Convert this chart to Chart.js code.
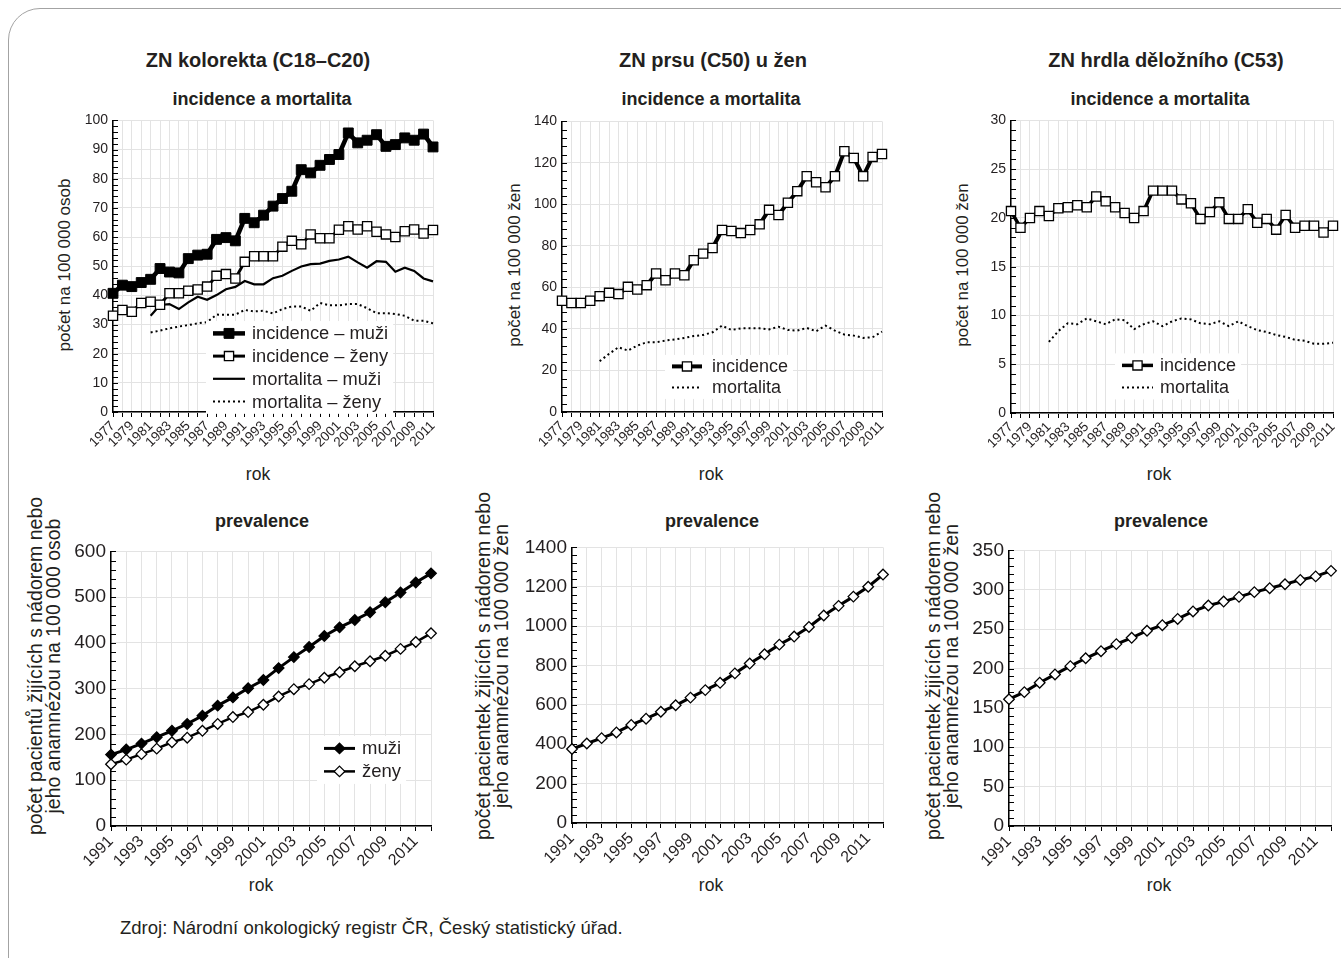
<!DOCTYPE html>
<html lang="cs">
<head>
<meta charset="utf-8">
<title>ZN kolorekta, prsu a hrdla děložního</title>
<script src="https://cdn.jsdelivr.net/npm/chart.js@4.4.1/dist/chart.umd.min.js"></script>
<style>
  html, body { margin: 0; padding: 0; background: #fff; overflow: hidden; }
  body { width: 1341px; height: 958px; position: relative; font-family: "Liberation Sans", Arial, sans-serif; color: #231f20; }
  .frame { position: absolute; left: 8px; top: 8px; width: 1400px; height: 1000px; border: 1.5px solid #a3a3a3; border-radius: 32px; }
  .txt { position: absolute; white-space: nowrap; transform: translate(-50%, -50%); }
  .head { font-weight: bold; font-size: 20px; }
  .sub { font-weight: bold; font-size: 18px; }
  .ytitle { transform: translate(-50%, -50%) rotate(-90deg); text-align: center; font-size: 17px; line-height: 18px; }
  .ytitle.two { font-size: 19.5px; }
  .xtitle { font-size: 17.5px; }
  .src { position: absolute; left: 120px; top: 917px; font-size: 18.5px; white-space: nowrap; }
  canvas { position: absolute; }
</style>
</head>
<body>
<div class="frame"></div>

<div class="txt head" style="left:258px;top:60px">ZN kolorekta (C18–C20)</div>
<div class="txt head" style="left:713px;top:60px">ZN prsu (C50) u žen</div>
<div class="txt head" style="left:1166px;top:60px">ZN hrdla děložního (C53)</div>

<div class="txt sub" style="left:262px;top:99px">incidence a mortalita</div>
<div class="txt sub" style="left:711px;top:99px">incidence a mortalita</div>
<div class="txt sub" style="left:1160px;top:99px">incidence a mortalita</div>

<div class="txt sub" style="left:262px;top:521px">prevalence</div>
<div class="txt sub" style="left:712px;top:521px">prevalence</div>
<div class="txt sub" style="left:1161px;top:521px">prevalence</div>

<div class="txt ytitle" style="left:65px;top:265px">počet na 100 000 osob</div>
<div class="txt ytitle" style="left:515px;top:265px">počet na 100 000 žen</div>
<div class="txt ytitle" style="left:963px;top:265px">počet na 100 000 žen</div>

<div class="txt ytitle two" style="left:44px;top:666px">počet pacientů žijících s nádorem nebo<br>jeho anamnézou na 100 000 osob</div>
<div class="txt ytitle two" style="left:492px;top:666px">počet pacientek žijících s nádorem nebo<br>jeho anamnézou na 100 000 žen</div>
<div class="txt ytitle two" style="left:942px;top:666px">počet pacientek žijících s nádorem nebo<br>jeho anamnézou na 100 000 žen</div>

<div class="txt xtitle" style="left:258px;top:474px">rok</div>
<div class="txt xtitle" style="left:711px;top:474px">rok</div>
<div class="txt xtitle" style="left:1159px;top:474px">rok</div>
<div class="txt xtitle" style="left:261px;top:885px">rok</div>
<div class="txt xtitle" style="left:711px;top:885px">rok</div>
<div class="txt xtitle" style="left:1159px;top:885px">rok</div>

<canvas id="kolIM"></canvas>
<canvas id="prsIM"></canvas>
<canvas id="hrdIM"></canvas>
<canvas id="kolPrev"></canvas>
<canvas id="prsPrevC"></canvas>
<canvas id="hrdPrevC"></canvas>

<div class="src">Zdroj: Národní onkologický registr ČR, Český statistický úřad.</div>

<script>
// years on the category axes
const yearsTop = [1977, 1978, 1979, 1980, 1981, 1982, 1983, 1984, 1985, 1986, 1987, 1988,
  1989, 1990, 1991, 1992, 1993, 1994, 1995, 1996, 1997, 1998, 1999, 2000, 2001, 2002,
  2003, 2004, 2005, 2006, 2007, 2008, 2009, 2010, 2011];
const yearsPrev = [1991, 1992, 1993, 1994, 1995, 1996, 1997, 1998, 1999, 2000, 2001, 2002,
  2003, 2004, 2005, 2006, 2007, 2008, 2009, 2010, 2011, 2012];

// colorectum (C18–C20), per 100 000
const kolIncMuzi = [40.7, 43.5, 43.0, 44.4, 45.5, 49.2, 48.0, 47.7, 52.6, 53.8, 54.1, 59.2, 59.8,
  58.7, 66.4, 64.9, 67.5, 70.6, 73.2, 75.7, 83.1, 82.0, 84.6, 86.6, 88.3, 95.7, 92.3, 93.2, 95.1,
  91.1, 91.7, 94.0, 93.2, 95.3, 90.9];
const kolIncZeny = [33.0, 35.0, 34.4, 37.4, 37.8, 36.8, 40.7, 40.7, 41.6, 42.0, 43.0, 46.7, 47.3,
  45.8, 51.5, 53.4, 53.4, 53.4, 56.7, 58.7, 57.5, 60.9, 59.6, 59.6, 62.5, 63.7, 62.6, 63.7, 61.8,
  60.9, 60.0, 62.0, 62.6, 61.2, 62.4];
const kolMortMuzi = [null, null, null, null, 33.0, 36.7, 37.0, 35.3, 37.6, 39.5, 38.5, 40.1, 42.1,
  42.9, 44.9, 43.8, 43.8, 45.9, 46.7, 48.4, 49.9, 50.7, 50.9, 51.8, 52.3, 53.3, 51.3, 49.5, 51.7,
  51.5, 48.1, 49.5, 48.4, 45.8, 44.8];
const kolMortZeny = [null, null, null, null, 27.3, 27.9, 28.7, 29.3, 29.8, 30.4, 30.8, 33.4, 33.3,
  33.4, 35.0, 34.5, 34.7, 33.8, 35.3, 36.2, 36.2, 34.7, 37.4, 36.6, 36.6, 37.0, 37.0, 35.6, 33.9,
  33.9, 33.6, 33.0, 31.3, 31.3, 30.4];

// breast (C50), women
const prsInc = [53.6, 52.5, 52.5, 53.6, 55.8, 57.4, 56.8, 60.3, 59.0, 61.1, 66.7, 63.5, 66.7, 65.9,
  73.1, 76.3, 79.0, 87.7, 87.2, 86.2, 87.7, 90.4, 97.4, 94.9, 100.8, 106.4, 113.6, 110.7, 108.3,
  113.6, 125.6, 122.4, 113.6, 122.9, 124.3];
const prsMort = [null, null, null, null, 24.5, 28.0, 31.2, 29.6, 32.0, 33.6, 33.6, 34.4, 35.0, 35.7,
  36.6, 37.1, 38.4, 41.6, 39.5, 40.3, 40.3, 40.3, 39.8, 41.1, 39.5, 39.2, 40.5, 38.9, 41.6, 39.2,
  37.3, 36.8, 35.7, 36.0, 38.7];

// cervix (C53)
const hrdInc = [20.7, 19.0, 20.0, 20.7, 20.2, 21.0, 21.1, 21.3, 21.1, 22.2, 21.7, 21.1, 20.5, 20.0,
  20.7, 22.8, 22.8, 22.8, 21.9, 21.5, 19.9, 20.6, 21.6, 19.9, 19.9, 20.9, 19.5, 19.9, 18.8, 20.3,
  19.0, 19.2, 19.2, 18.5, 19.2];
const hrdMort = [null, null, null, null, 7.3, 8.4, 9.2, 9.1, 9.7, 9.4, 9.1, 9.6, 9.5, 8.6, 9.1, 9.4,
  8.9, 9.4, 9.7, 9.6, 9.2, 9.1, 9.4, 8.9, 9.4, 8.9, 8.5, 8.3, 8.0, 7.8, 7.5, 7.4, 7.1, 7.1, 7.2];

// prevalence 1991–2012
const kolPrevMuzi = [156, 167, 180, 194, 208, 223, 241, 263, 281, 301, 319, 345, 369, 391, 415, 434,
  450, 467, 489, 510, 532, 552];
const kolPrevZeny = [135, 145, 157, 169, 183, 193, 208, 223, 238, 249, 265, 283, 299, 310, 324, 336,
  349, 360, 372, 387, 402, 421];
const prsPrev = [376, 404, 431, 460, 498, 530, 565, 598, 637, 675, 712, 760, 810, 857, 906, 947, 996,
  1054, 1103, 1150, 1200, 1262];
const hrdPrev = [161, 170, 182, 192.5, 203, 213, 222, 231, 239, 248, 255, 263, 272.5, 280, 285, 291,
  297, 302, 307, 312.5, 317, 324];

const FONT = '"Liberation Sans", Arial, sans-serif';
const INK = '#231f20';
const GRID = '#e3e3e3';

function drawMarker(ctx, ds, x, y) {
  const r = ds.pointRadius;
  ctx.beginPath();
  if (ds.pointStyle === 'rectRot') {
    ctx.moveTo(x, y - r); ctx.lineTo(x + r, y); ctx.lineTo(x, y + r); ctx.lineTo(x - r, y);
    ctx.closePath();
  } else {
    const s = r * Math.SQRT1_2;
    ctx.rect(x - s, y - s, 2 * s, 2 * s);
  }
  ctx.fillStyle = ds.pointBackgroundColor;
  ctx.fill();
  ctx.lineWidth = ds.pointBorderWidth;
  ctx.strokeStyle = ds.pointBorderColor;
  ctx.stroke();
}

// small tick marks on the inside of the value axis
const innerTicks = {
  id: 'innerTicks',
  beforeDatasetsDraw(chart, args, o) {
    const y = chart.scales.y, a = chart.chartArea, ctx = chart.ctx;
    ctx.save();
    ctx.strokeStyle = '#000';
    ctx.lineWidth = 1;
    ctx.beginPath();
    for (let v = y.min; v <= y.max + 1e-9; v += o.step) {
      const py = Math.round(y.getPixelForValue(v)) + 0.5;
      ctx.moveTo(a.left, py);
      ctx.lineTo(a.left + o.len, py);
    }
    ctx.stroke();
    ctx.restore();
  }
};

// legend drawn inside the plot on a white patch
const insetLegend = {
  id: 'insetLegend',
  afterDatasetsDraw(chart, args, o) {
    if (!o.items) return;
    const ctx = chart.ctx, a = chart.chartArea;
    const x0 = a.left + o.x, y0 = a.top + o.y;
    const sets = o.items.map(i => chart.data.datasets[i]);
    ctx.save();
    ctx.font = o.size + 'px ' + FONT;
    const tw = Math.max(...sets.map(ds => ctx.measureText(ds.label).width));
    ctx.fillStyle = '#fff';
    ctx.fillRect(x0 - 7, y0 - o.row / 2 - 1, o.sample + o.gap + tw + 12, o.row * sets.length + 2);
    sets.forEach((ds, k) => {
      const y = y0 + k * o.row;
      ctx.beginPath();
      ctx.setLineDash(ds.borderDash || []);
      ctx.lineWidth = ds.borderWidth;
      ctx.strokeStyle = ds.borderColor;
      ctx.moveTo(x0, y);
      ctx.lineTo(x0 + o.sample, y);
      ctx.stroke();
      ctx.setLineDash([]);
      if (ds.pointRadius) drawMarker(ctx, ds, x0 + o.sample / 2, y);
      ctx.fillStyle = INK;
      ctx.textAlign = 'left';
      ctx.textBaseline = 'middle';
      ctx.fillText(ds.label, x0 + o.sample + o.gap, y + 1);
    });
    ctx.restore();
  }
};

function series(label, data, width, extra) {
  return Object.assign({
    label, data, borderColor: '#000', borderWidth: width, pointRadius: 0,
    pointHoverRadius: 0, tension: 0, clip: false, spanGaps: false
  }, extra);
}

function lineChart(id, g, labels, datasets, y, legend) {
  const cv = document.getElementById(id);
  const left = g.l - g.yw, top = g.t - 12;
  cv.width = g.r + 16 - left;
  cv.height = g.b + g.xh + 2 - top;
  cv.style.left = left + 'px';
  cv.style.top = top + 'px';
  return new Chart(cv, {
    type: 'line',
    data: { labels, datasets },
    options: {
      responsive: false,
      animation: false,
      devicePixelRatio: 1,
      events: [],
      layout: { padding: { top: 12, right: 16, bottom: 2, left: 0 } },
      scales: {
        x: {
          type: 'category',
          offset: false,
          grid: { color: GRID, lineWidth: 1, drawTicks: true, tickLength: 5, tickColor: '#000' },
          border: { color: '#000', width: 1.5 },
          ticks: {
            autoSkip: false, minRotation: 45, maxRotation: 45, padding: 1,
            color: INK, font: { family: FONT, size: g.xf },
            callback(v) { const yr = this.getLabelForValue(v); return yr % 2 ? String(yr) : ''; }
          },
          afterFit(s) { s.height = g.xh; }
        },
        y: {
          min: 0, max: y.max,
          grid: { color: GRID, lineWidth: 1, drawTicks: false },
          border: { color: '#000', width: 1.5 },
          ticks: {
            stepSize: y.step, padding: 5, color: INK, font: { family: FONT, size: g.yf },
            callback: v => String(v)
          },
          afterFit(s) { s.width = g.yw; }
        }
      },
      plugins: {
        legend: { display: false },
        tooltip: { enabled: false },
        innerTicks: { step: y.minor, len: 5 },
        insetLegend: legend
      }
    },
    plugins: [innerTicks, insetLegend]
  });
}

const openSquare = { pointStyle: 'rect', pointRadius: 6.5, pointBackgroundColor: '#fff', pointBorderColor: '#000', pointBorderWidth: 1.3 };
const dotted = { borderDash: [2, 3], borderCapStyle: 'butt' };

lineChart('kolIM', { l: 113, t: 119, r: 433, b: 412, yw: 48, xh: 50, yf: 14, xf: 13.5 }, yearsTop, [
  series('incidence – muži', kolIncMuzi, 4.5, { pointStyle: 'rect', pointRadius: 7, pointBackgroundColor: '#000', pointBorderColor: '#000', pointBorderWidth: 1 }),
  series('incidence – ženy', kolIncZeny, 3, openSquare),
  series('mortalita – muži', kolMortMuzi, 2.2),
  series('mortalita – ženy', kolMortZeny, 2, dotted)
], { max: 100, step: 10, minor: 2 },
{ items: [0, 1, 2, 3], x: 100, y: 213, row: 22.7, sample: 32, gap: 7, size: 18.3 });

lineChart('prsIM', { l: 562, t: 120, r: 882, b: 412, yw: 48, xh: 50, yf: 14, xf: 13.5 }, yearsTop, [
  series('incidence', prsInc, 4, openSquare),
  series('mortalita', prsMort, 2, dotted)
], { max: 140, step: 20, minor: 4 },
{ items: [0, 1], x: 110, y: 245, row: 21, sample: 30, gap: 10, size: 18 });

lineChart('hrdIM', { l: 1011, t: 119, r: 1333, b: 413, yw: 48, xh: 50, yf: 14, xf: 13.5 }, yearsTop, [
  series('incidence', hrdInc, 3.5, openSquare),
  series('mortalita', hrdMort, 2, dotted)
], { max: 30, step: 5, minor: 1 },
{ items: [0, 1], x: 111, y: 245, row: 22, sample: 31, gap: 7, size: 18 });

const diamond = (fill) => ({ pointStyle: 'rectRot', pointRadius: 5.3, pointBackgroundColor: fill, pointBorderColor: '#000', pointBorderWidth: 1.3 });

lineChart('kolPrev', { l: 111, t: 547, r: 431, b: 826, yw: 62, xh: 50, yf: 19, xf: 16 }, yearsPrev, [
  series('muži', kolPrevMuzi, 3, diamond('#000')),
  series('ženy', kolPrevZeny, 2.5, diamond('#fff'))
], { max: 600, step: 100, minor: 20 },
{ items: [0, 1], x: 213, y: 197, row: 23, sample: 31, gap: 7, size: 18.5 });

lineChart('prsPrevC', { l: 572, t: 543, r: 883, b: 823, yw: 62, xh: 50, yf: 19, xf: 16 }, yearsPrev, [
  series('prevalence', prsPrev, 3, diamond('#fff'))
], { max: 1400, step: 200, minor: 40 }, {});

lineChart('hrdPrevC', { l: 1009, t: 546, r: 1331, b: 826, yw: 62, xh: 50, yf: 19, xf: 16 }, yearsPrev, [
  series('prevalence', hrdPrev, 3, diamond('#fff'))
], { max: 350, step: 50, minor: 10 }, {});
</script>
</body>
</html>
